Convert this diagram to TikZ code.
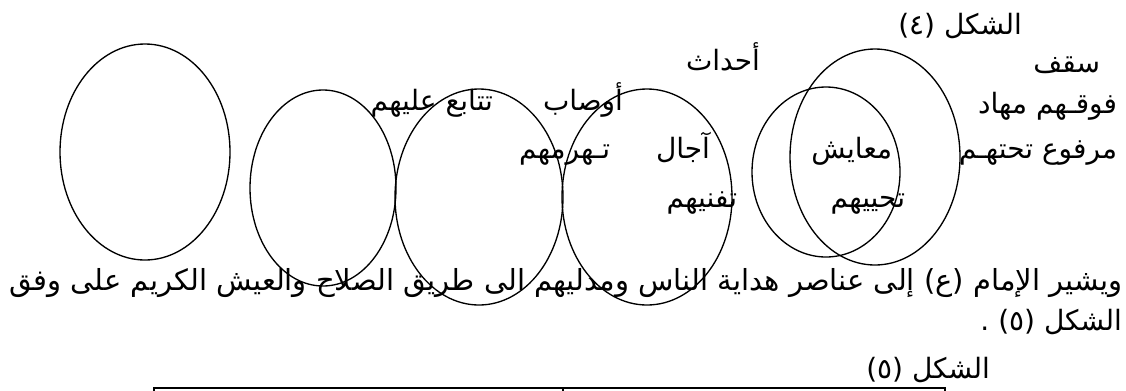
\documentclass[tikz,border=0pt]{standalone}
\usepackage{fontspec}
\newfontfamily\arabicfont[Script=Arabic]{DejaVu Sans}
\TeXXeTstate=1

\begin{document}
\begin{tikzpicture}[
  x=0.75pt,y=-0.75pt,
  every node/.style={inner sep=0pt,outer sep=0pt},
  ar/.style={font=\arabicfont\fontsize{21}{24}\selectfont,anchor=base east},
  line/.style={ar,font=\arabicfont\fontsize{21.75}{24}\selectfont},
  ring/.style={line width=1pt},
  grid/.style={line width=1.8pt}]
  \path[use as bounding box] (0,0) rectangle (1126,390);

  % Figure 4: the rings.
  \draw[ring] (145,152) ellipse [x radius=85,y radius=108];
  \draw[ring] (323,188) ellipse [x radius=73,y radius=98];
  \draw[ring] (479,197) ellipse [x radius=84,y radius=108];
  \draw[ring] (647,197) ellipse [x radius=85,y radius=108];
  \draw[ring] (826,172) ellipse [x radius=74,y radius=85];
  \draw[ring] (875,157) ellipse [x radius=85,y radius=108];

  % Figure 4: the words.
  \node[ar] (fig4) at (1022,34) {\beginR الشكل (٤)\endR};
  \node[ar] (saqf) at (1100,72) {\beginR سقف\endR};
  \node[ar] (ahdath) at (760,70) {\beginR أحداث\endR};
  \node[ar] (mihad) at (1117,113) {\beginR فوقـهم مهاد\endR};
  \node[ar] (awsab) at (623,110) {\beginR أوصاب\endR};
  \node[ar] (tataba) at (493,110) {\beginR تتابع عليهم\endR};
  \node[ar] (marfu) at (1117,158) {\beginR مرفوع تحتهـم\endR};
  \node[ar] (maayish) at (892,158) {\beginR معايش\endR};
  \node[ar] (ajal) at (710,158) {\beginR آجال\endR};
  \node[ar] (tahram) at (610,158) {\beginR تـهرمهم\endR};
  \node[ar] (tuhyi) at (905,207) {\beginR تحييهم\endR};
  \node[ar] (tufni) at (737,207) {\beginR تفنيهم\endR};

  % Running text and figure 5.
  \node[line] (para) at (1122,290)
    {\beginR ويشير الإمام (ع) إلى عناصر هداية الناس ومدليهم الى طريق الصلاح والعيش الكريم على وفق\endR};
  \node[ar] (fig5ref) at (1122,330) {\beginR الشكل (٥) .\endR};
  \node[ar] (fig5) at (990,378) {\beginR الشكل (٥)\endR};
  \draw[grid] (154,420) |- (945,388) -- (945,420);
  \draw[grid] (563,388) -- (563,420);
\end{tikzpicture}
\end{document}
